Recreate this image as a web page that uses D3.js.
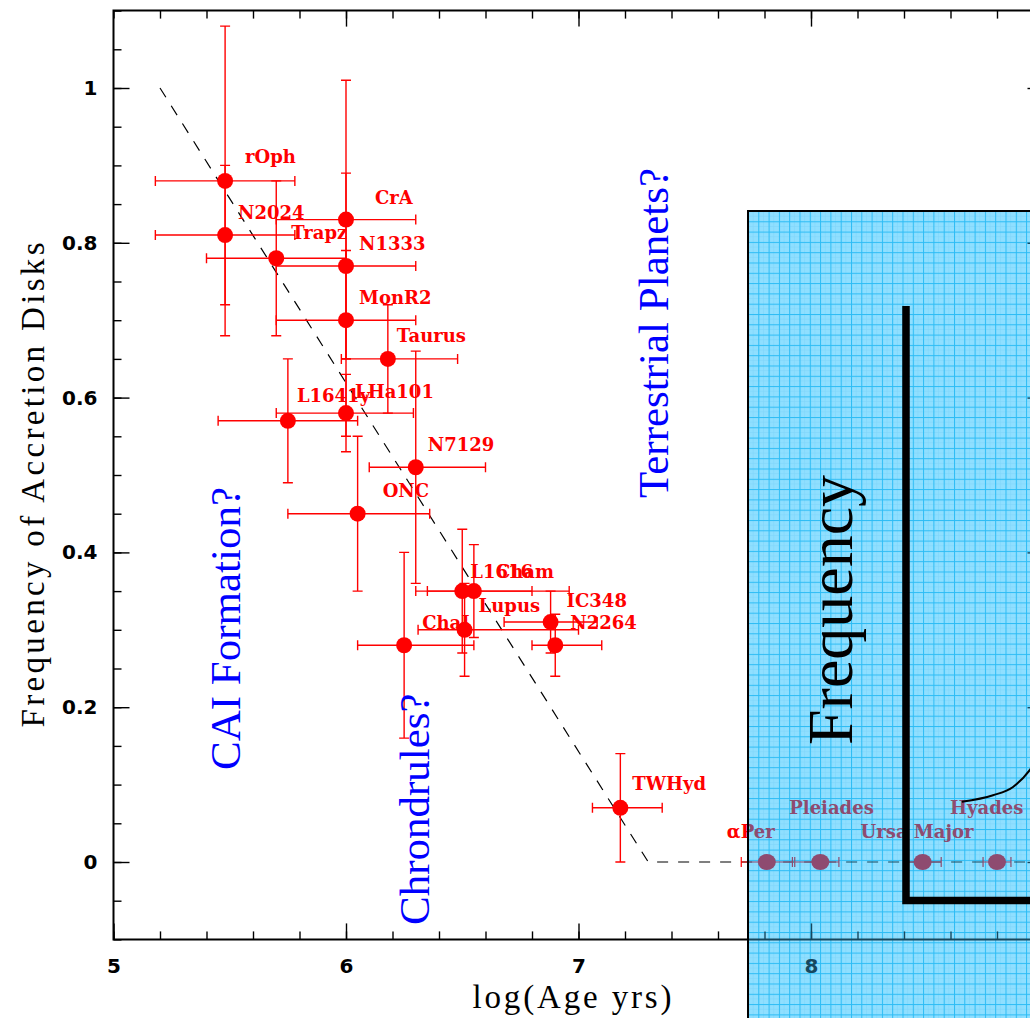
<!DOCTYPE html>
<html><head><meta charset="utf-8">
<script src="https://cdn.jsdelivr.net/npm/d3@7"></script>
<style>body{margin:0;background:#fff}svg{display:block}</style>
</head><body><svg id="c" width="1030" height="1018"></svg>
<script>
// ---- young clusters: disk frequency vs log age ----
const youngNames  = ["rOph","N2024","Trapz","CrA","N1333","MonR2","Taurus","L1641y","LHa101","N7129","ONC","L1616","Cham","Lupus","IC348","N2264","ChaI","TWHyd"];
const youngAge    = [5.48, 5.48, 5.70, 6.00, 6.00, 6.00, 6.18, 5.75, 6.00, 6.30, 6.05, 6.50, 6.55, 6.51, 6.88, 6.90, 6.25, 7.18];
const youngAgeLo  = [5.18, 5.18, 5.40, 5.70, 5.70, 5.70, 5.98, 5.45, 5.70, 6.10, 5.75, 6.30, 6.35, 6.31, 6.68, 6.80, 6.05, 7.06];
const youngAgeHi  = [5.78, 5.78, 6.00, 6.30, 6.30, 6.30, 6.48, 6.05, 6.29, 6.60, 6.36, 6.80, 6.96, 7.00, 7.08, 7.10, 6.55, 7.36];
const youngFreq   = [0.88, 0.81, 0.78, 0.83, 0.77, 0.70, 0.65, 0.57, 0.58, 0.51, 0.45, 0.35, 0.35, 0.30, 0.31, 0.28, 0.28, 0.07];
const youngFreqLo = [0.68, 0.72, 0.68, 0.65, 0.65, 0.55, 0.58, 0.49, 0.53, 0.36, 0.35, 0.27, 0.29, 0.24, 0.27, 0.24, 0.16, 0.00];
const youngFreqHi = [1.08, 0.90, 0.88, 1.01, 0.89, 0.79, 0.72, 0.65, 0.63, 0.66, 0.55, 0.43, 0.41, 0.36, 0.35, 0.32, 0.40, 0.14];

// ---- older clusters with no accretion disks ----
const oldNames  = ["\u03b1Per","Pleiades","Ursa Major","Hyades"];
const oldAge    = [7.81, 8.04, 8.48, 8.80];
const oldAgeLo  = [7.70, 7.93, 8.40, 8.74];
const oldAgeHi  = [7.92, 8.12, 8.56, 8.86];
const oldFreq   = [0, 0, 0, 0];

// ---- simple disk-decay model ----
const modelAge  = [5.2, 7.3, 9.0];
const modelFreq = [1.0, 0.0, 0.0];

// ---- axis ticks ----
const xMajor = [5, 6, 7, 8];
const yMajor = [0, 0.2, 0.4, 0.6, 0.8, 1];

// ---- inset frequency curve (inset units) ----
const insetCurveX = [0.190, 0.296, 0.364, 0.422, 0.473];
const insetCurveY = [0.166, 0.177, 0.191, 0.220, 0.262];

// label placement (pixel offsets from each marker)
const youngLabelDx = [20, 13, 15, 29, 13, 13, 9, 9, 9, 12, 25, 8, 22, 14, 16, 15, 18, 12];
const youngLabelDy = [-24, -23, -26, -22, -23, -23, -23, -25, -22, -23, -23, -20, -20, -24, -22, -23, -23, -24];
const oldLabelDx = [-40, -31, -62, -47];
const oldLabelDy = [-30, -54, -30, -54];

const svg = d3.select("#c");
const W = 1030, H = 1018;
const x = d3.scaleLinear().domain([5, 9]).range([113.5, 1043.5]);
const y = d3.scaleLinear().domain([-0.1, 1.1]).range([939.4, 10.6]);

svg.append("rect").attr("width", W).attr("height", H).attr("fill", "#fff");

const labelFont = "'DejaVu Serif', serif";
const tickFont = "'DejaVu Sans', sans-serif";
const titleFont = "'Liberation Serif', 'Times New Roman', serif";

const defs = svg.append("defs");
const pat = defs.append("pattern").attr("id", "grid").attr("patternUnits", "userSpaceOnUse")
  .attr("x", 748).attr("y", 211).attr("width", 10.3).attr("height", 10.3);
pat.append("rect").attr("width", 10.3).attr("height", 10.3).attr("fill", "#8fdfff");
pat.append("rect").attr("x", 5).attr("y", 0).attr("width", 0.6).attr("height", 10.3).attr("fill", "#7fd6fb");
pat.append("rect").attr("x", 0).attr("y", 5).attr("width", 10.3).attr("height", 0.6).attr("fill", "#7fd6fb");
pat.append("rect").attr("x", 0).attr("y", 0).attr("width", 1).attr("height", 10.3).attr("fill", "#2cbcf5");
pat.append("rect").attr("x", 0).attr("y", 0).attr("width", 10.3).attr("height", 1).attr("fill", "#2cbcf5");

const boxX = 748, boxY = 211;
defs.append("clipPath").attr("id", "boxclip").append("rect")
  .attr("x", boxX + 1).attr("y", boxY + 1).attr("width", W).attr("height", H);

function drawChart(g, pal) {
  // frame
  g.append("path")
    .attr("d", `M${x(9)},${y(1.1)}H${x(5)}V${y(-0.1)}H${x(9)}V${y(1.1)}`)
    .attr("fill", "none").attr("stroke", pal.ink).attr("stroke-width", 2);

  const minorX = d3.range(5, 9.001, 0.2).map(v => +v.toFixed(1));
  const minorY = d3.range(-0.1, 1.1001, 0.05).map(v => +v.toFixed(2));
  const styleAxis = sel => {
    sel.select(".domain").remove();
    sel.selectAll(".tick line").attr("stroke", pal.ink).attr("stroke-width", 1.4);
    sel.selectAll(".tick text").attr("fill", pal.ink).attr("font-family", tickFont)
      .attr("font-weight", "bold").attr("font-size", 20);
  };
  // bottom
  g.append("g").attr("transform", `translate(0,${y(-0.1)})`)
    .call(d3.axisBottom(x).tickValues(minorX).tickSize(-8).tickFormat("")).call(styleAxis);
  g.append("g").attr("transform", `translate(0,${y(-0.1)})`)
    .call(d3.axisBottom(x).tickValues(xMajor).tickSize(-16).tickPadding(19).tickFormat(d3.format("d"))).call(styleAxis);
  // top
  g.append("g").attr("transform", `translate(0,${y(1.1)})`)
    .call(d3.axisTop(x).tickValues(minorX).tickSize(-8).tickFormat("")).call(styleAxis);
  g.append("g").attr("transform", `translate(0,${y(1.1)})`)
    .call(d3.axisTop(x).tickValues([6, 7, 8]).tickSize(-16).tickFormat("")).call(styleAxis);
  // left
  g.append("g").attr("transform", `translate(${x(5)},0)`)
    .call(d3.axisLeft(y).tickValues(minorY).tickSize(-8).tickFormat("")).call(styleAxis);
  g.append("g").attr("transform", `translate(${x(5)},0)`)
    .call(d3.axisLeft(y).tickValues(yMajor).tickSize(-16).tickPadding(16).tickFormat(d => d === 0 || d === 1 ? d3.format("d")(d) : d3.format(".1f")(d))).call(styleAxis);
  // right
  g.append("g").attr("transform", `translate(${x(9)},0)`)
    .call(d3.axisRight(y).tickValues(minorY).tickSize(-8).tickFormat("")).call(styleAxis);
  g.append("g").attr("transform", `translate(${x(9)},0)`)
    .call(d3.axisRight(y).tickValues(yMajor).tickSize(-16).tickFormat("")).call(styleAxis);

  // model line
  const line = d3.line().x((d, i) => x(modelAge[i])).y((d, i) => y(modelFreq[i]));
  g.append("path").attr("d", line(modelAge)).attr("fill", "none")
    .attr("stroke", pal.ink).attr("stroke-width", 1.2).attr("stroke-dasharray", "11,10");

  const cap = 5;
  // young clusters error bars
  const eb = g.append("g").attr("stroke", pal.data).attr("stroke-width", 1.4).attr("fill", "none");
  youngAge.forEach((a, i) => {
    const cy = y(youngFreq[i]), cx = x(a);
    const x0 = x(youngAgeLo[i]), x1 = x(youngAgeHi[i]);
    const y0 = y(youngFreqLo[i]), y1 = y(youngFreqHi[i]);
    eb.append("path").attr("d",
      `M${x0},${cy}H${x1}M${x0},${cy - cap}V${cy + cap}M${x1},${cy - cap}V${cy + cap}` +
      `M${cx},${y0}V${y1}M${cx - cap},${y0}H${cx + cap}M${cx - cap},${y1}H${cx + cap}`);
  });
  g.append("g").selectAll("circle").data(youngAge).join("circle")
    .attr("cx", d => x(d)).attr("cy", (d, i) => y(youngFreq[i])).attr("r", 8).attr("fill", pal.data);
  g.append("g").selectAll("text").data(youngNames).join("text")
    .attr("x", (d, i) => x(youngAge[i]) + youngLabelDx[i])
    .attr("y", (d, i) => y(youngFreq[i]) + youngLabelDy[i])
    .attr("dy", "0.36em")
    .attr("font-family", labelFont).attr("font-weight", "bold").attr("font-size", 18)
    .attr("fill", pal.data).text(d => d);

  // older clusters
  const eo = g.append("g").attr("stroke", pal.old).attr("stroke-width", 1.2).attr("fill", "none");
  oldAge.forEach((a, i) => {
    const cy = y(oldFreq[i]);
    const x0 = x(oldAgeLo[i]), x1 = x(oldAgeHi[i]);
    eo.append("path").attr("d", `M${x0},${cy}H${x1}M${x0},${cy - 5}V${cy + 5}M${x1},${cy - 5}V${cy + 5}`);
  });
  g.append("g").selectAll("ellipse").data(oldAge).join("ellipse")
    .attr("cx", d => x(d)).attr("cy", (d, i) => y(oldFreq[i])).attr("rx", 9).attr("ry", 8).attr("fill", pal.old);
  g.append("g").selectAll("text").data(oldNames).join("text")
    .attr("x", (d, i) => x(oldAge[i]) + oldLabelDx[i])
    .attr("y", (d, i) => y(oldFreq[i]) + oldLabelDy[i])
    .attr("dy", "0.36em")
    .attr("font-family", labelFont).attr("font-weight", "bold").attr("font-size", 18)
    .attr("fill", pal.old).text(d => d);
}

// plain chart
const base = svg.append("g");
drawChart(base, { ink: "#000", data: "#ff0000", old: "#ff0000" });

// axis titles
base.append("text").attr("transform", "translate(44,485) rotate(-90)")
  .attr("text-anchor", "middle").attr("font-family", titleFont).attr("font-size", 33)
  .attr("textLength", 485).attr("lengthAdjust", "spacing").text("Frequency of Accretion Disks");
base.append("text").attr("x", 572).attr("y", 1008)
  .attr("text-anchor", "middle").attr("font-family", titleFont).attr("font-size", 33)
  .attr("textLength", 199).attr("lengthAdjust", "spacing").text("log(Age yrs)");

// epoch annotations
const notes = [
  { t: "CAI Formation?", bx: 240, sy: 770 },
  { t: "Chrondrules?", bx: 429, sy: 925 },
  { t: "Terrestrial Planets?", bx: 668, sy: 498 }
];
base.append("g").selectAll("text").data(notes).join("text")
  .attr("transform", d => `translate(${d.bx},${d.sy}) rotate(-90)`)
  .attr("font-family", titleFont).attr("font-size", 43).attr("fill", "#0000ff")
  .text(d => d.t);

// overlay panel
svg.append("rect").attr("x", boxX).attr("y", boxY).attr("width", W).attr("height", H)
  .attr("fill", "url(#grid)").attr("stroke", "#000").attr("stroke-width", 2);

const under = svg.append("g").attr("clip-path", "url(#boxclip)");
drawChart(under, { ink: "#17485f", data: "#8e4b70", old: "#8e4b70" });

// inset: frequency distribution axes and curve
const ix = d3.scaleLinear().domain([0, 1]).range([906, 1200]);
const iy = d3.scaleLinear().domain([0, 1]).range([900.5, 306]);
const inset = svg.append("g");
inset.append("path")
  .attr("d", `M${ix(0)},${iy(1)}V${iy(0)}H${ix(1)}`)
  .attr("fill", "none").attr("stroke", "#000").attr("stroke-width", 7.5).attr("stroke-linejoin", "miter");
inset.append("path")
  .attr("d", d3.line().x((d, i) => ix(insetCurveX[i])).y((d, i) => iy(insetCurveY[i])).curve(d3.curveMonotoneX)(insetCurveX))
  .attr("fill", "none").attr("stroke", "#000").attr("stroke-width", 2);
inset.append("text").attr("transform", "translate(852,745) rotate(-90)")
  .attr("font-family", titleFont).attr("font-size", 64).attr("fill", "#000").text("Frequency");
</script></body></html>
